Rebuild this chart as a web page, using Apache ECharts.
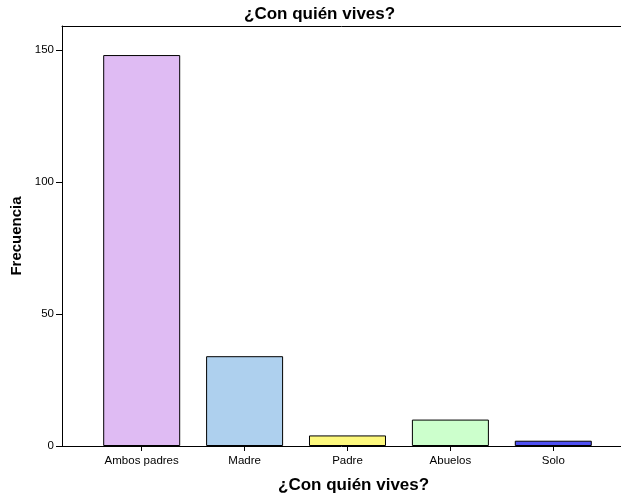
<!DOCTYPE html>
<html>
<head>
<meta charset="utf-8">
<script src="https://cdn.jsdelivr.net/npm/echarts@6/dist/echarts.min.js"></script>
<style>
  html, body { margin: 0; padding: 0; background: #fff; }
  #chart { width: 621px; height: 497px; }
</style>
</head>
<body>
<div id="chart"></div>
<script>
// Data (SPSS bar chart)
const categories = ['Ambos padres', 'Madre', 'Padre', 'Abuelos', 'Solo'];
const frecuencia = [148, 34, 4, 10, 2];
const barColors = ['#dfbbf3', '#aed0ee', '#fdf87d', '#ccffcc', '#4f50f3'];
const yTicks = [0, 50, 100, 150];

const FONT = '"Liberation Sans", Arial, sans-serif';

const chart = echarts.init(document.getElementById('chart'), null, { renderer: 'canvas' });

chart.setOption({
    backgroundColor: '#ffffff',
    animation: false,
    textStyle: { fontFamily: FONT },
    grid: { left: 62, top: 26, right: 0, bottom: 51 },
    graphic: [
        {
            type: 'text', left: 320 - 76, top: 6,
            style: { text: '¿Con quién vives?', font: 'bold 17px ' + FONT, fill: '#000' }
        },
        {
            type: 'text', left: 356 - 78, top: 477,
            style: { text: '¿Con quién vives?', font: 'bold 17px ' + FONT, fill: '#000' }
        }
    ],
    xAxis: [
        {
            type: 'value',
            min: -0.7745, max: 4.658,
            splitLine: { show: false },
            axisLine: { show: true, onZero: false, lineStyle: { color: '#000', width: 1 } },
            axisTick: { show: true, length: 5, customValues: [0, 1, 2, 3, 4], lineStyle: { color: '#000' } },
            axisLabel: {
                customValues: [0, 1, 2, 3, 4],
                formatter: v => categories[Math.round(v)] || '',
                color: '#000', fontSize: 11.5, margin: 9, fontFamily: FONT
            }
        },
        {
            // top frame line only
            type: 'value', position: 'top',
            min: -0.7745, max: 4.658,
            splitLine: { show: false },
            axisLine: { show: true, onZero: false, lineStyle: { color: '#000', width: 1 } },
            axisTick: { show: false },
            axisLabel: { show: false }
        }
    ],
    yAxis: {
        type: 'value',
        min: 0, max: 159,
        name: 'Frecuencia',
        nameLocation: 'middle',
        nameGap: 35,
        nameTextStyle: { fontWeight: 'bold', fontSize: 15, color: '#000', fontFamily: FONT },
        splitLine: { show: false },
        axisLine: { show: true, onZero: false, lineStyle: { color: '#000', width: 1 } },
        axisTick: { show: true, length: 6, customValues: yTicks, lineStyle: { color: '#000' } },
        axisLabel: { customValues: yTicks, color: '#000', fontSize: 11.5, margin: 8, fontFamily: FONT }
    },
    series: [{
        type: 'bar',
        xAxisIndex: 0,
        barWidth: 77,
        data: frecuencia.map((v, i) => ({
            value: [i, v],
            itemStyle: { color: barColors[i], borderColor: '#000', borderWidth: 1 }
        }))
    }]
});
</script>
</body>
</html>
